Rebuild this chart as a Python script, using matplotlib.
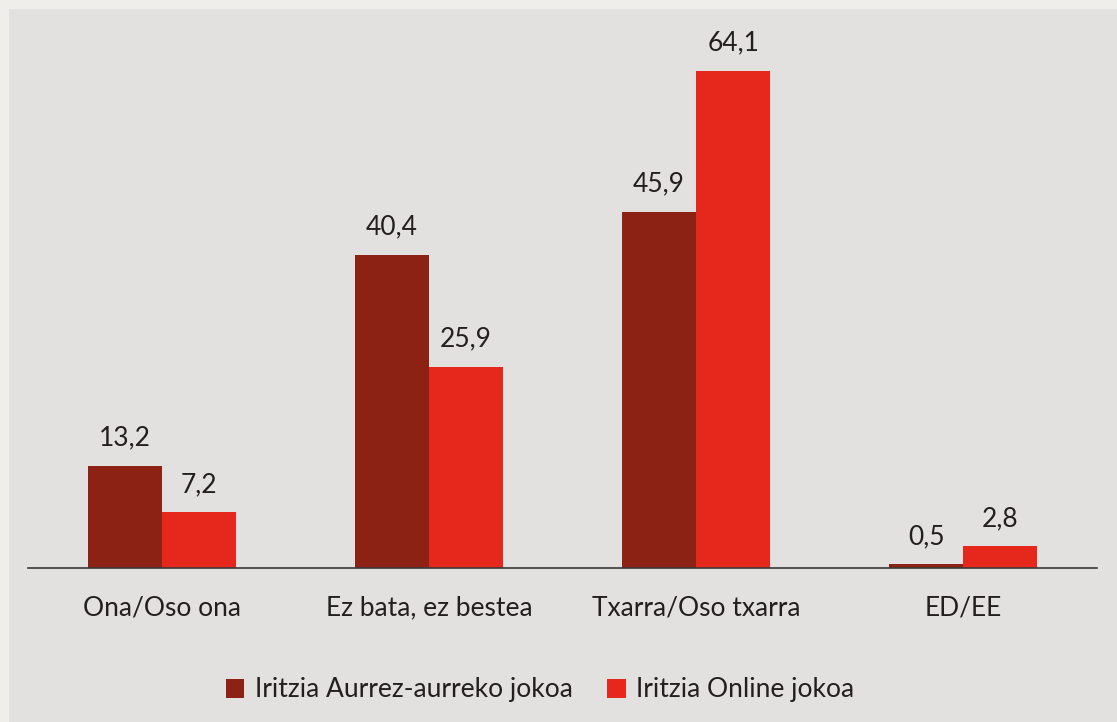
import numpy as np
import matplotlib.pyplot as plt
from matplotlib.patches import Rectangle

# data
categories = ['Ona/Oso ona', 'Ez bata, ez bestea', 'Txarra/Oso txarra', 'ED/EE']
aurrez = [13.2, 40.4, 45.9, 0.5]
online = [7.2, 25.9, 64.1, 2.8]
series_names = ['Iritzia Aurrez-aurreko jokoa', 'Iritzia Online jokoa']

dark_red = '#8b2213'
red = '#e5281b'
text_col = '#231f20'
fs = 19

plt.rcParams['font.family'] = ['Lato', 'DejaVu Sans']

fig = plt.figure(figsize=(11.17, 7.22), dpi=100, facecolor='#efeeea')
# gray panel
fig.patches.append(Rectangle((9 / 1117, 0), 1, 1 - 9 / 722, transform=fig.transFigure,
                             facecolor='#e2e1df', edgecolor='none', zorder=0))

ax = fig.add_axes([28 / 1117, 154 / 722, 1069 / 1117, 543 / 722])
ax.set_facecolor('none')
ax.set_zorder(2)

x = np.arange(len(categories))
w = 0.277
b1 = ax.bar(x - w / 2, aurrez, w, color=dark_red, label=series_names[0])
b2 = ax.bar(x + w / 2, online, w, color=red, label=series_names[1])

for bars, vals in [(b1, aurrez), (b2, online)]:
    for rect, v in zip(bars, vals):
        ax.annotate(('%.1f' % v).replace('.', ','),
                    (rect.get_x() + rect.get_width() / 2, rect.get_height()),
                    xytext=(0, 11), textcoords='offset points',
                    ha='center', va='bottom', fontsize=fs, color=text_col)

ax.set_xlim(-0.5, len(categories) - 0.5)
ax.set_ylim(0, 70)
ax.set_xticks(x)
ax.set_xticklabels(categories, fontsize=fs, color=text_col)
ax.tick_params(axis='x', length=0, pad=20)
ax.set_yticks([])
for s in ['top', 'right', 'left']:
    ax.spines[s].set_visible(False)
ax.spines['bottom'].set_color('#3a3a3a')
ax.spines['bottom'].set_linewidth(1.2)

leg = fig.legend(loc='center', bbox_to_anchor=(540 / 1117, 1 - 690 / 722), ncol=2,
                 frameon=False, fontsize=fs, handlelength=0.7, handleheight=0.7,
                 handletextpad=0.4, columnspacing=1.3)
leg.set_zorder(3)
for t in leg.get_texts():
    t.set_color(text_col)

fig.savefig('out.png', dpi=100, facecolor=fig.get_facecolor())
